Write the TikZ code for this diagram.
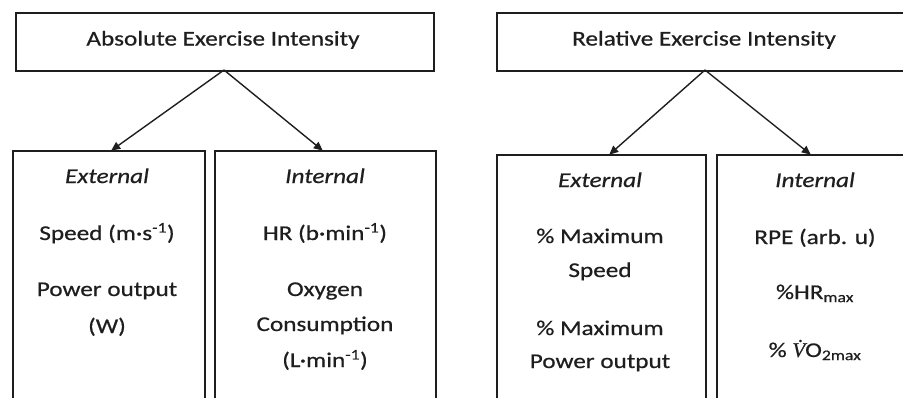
\documentclass[tikz,border=0pt]{standalone}
\usepackage{fontspec}
\setmainfont{Carlito}[FakeStretch=1.2,FakeBold=0.6]
\newfontfamily\vfont{Liberation Serif}[FakeBold=0.6]
\usetikzlibrary{arrows.meta}
\definecolor{ink}{HTML}{1E1E1E}
\tikzset{
  box/.style={draw=ink, line width=1.5pt, rectangle, inner sep=0pt, anchor=north west},
  lbl/.style={text=ink, anchor=base, inner sep=0pt, font=\fontsize{21}{24}\selectfont},
  arr/.style={draw=ink, line width=1.4pt, -{Triangle[length=9pt,width=8pt]}, shorten >=-1pt}
}
\begin{document}
\begin{tikzpicture}[x=1pt,y=-1pt]
\useasboundingbox (0,0) rectangle (903,397);
\clip (0,0) rectangle (903,397);
% top boxes
\node[box, minimum width=418pt, minimum height=58pt] (top1) at (15,12) {};
\node[box, minimum width=418pt, minimum height=58pt] (top2) at (496,12) {};
% lower boxes
\node[box, minimum width=192pt, minimum height=280pt] (b1) at (12,150) {};
\node[box, minimum width=221pt, minimum height=280pt] (b2) at (214,150) {};
\node[box, minimum width=209pt, minimum height=280pt] (b3) at (496,154) {};
\node[box, minimum width=221pt, minimum height=280pt] (b4) at (716,154) {};
% arrows
\coordinate (t1) at (224,70);
\coordinate (t2) at (705,70);
\coordinate (e1) at (112,150);
\coordinate (e2) at (322,150);
\coordinate (e3) at (610,154);
\coordinate (e4) at (810,154);
\draw[arr] (t1) -- (e1);
\draw[arr] (t1) -- (e2);
\draw[arr] (t2) -- (e3);
\draw[arr] (t2) -- (e4);
% titles
\node[lbl] (l0) at (223,45.5) {Absolute Exercise Intensity};
\node[lbl] (r0) at (704,45.5) {Relative Exercise Intensity};
% box 1
\node[lbl] (a1) at (107,183) {\itshape External};
\node[lbl] (a2) at (107,240) {Speed (m·s\textsuperscript{-1})};
\node[lbl] (a3) at (107,296) {Power output};
\node[lbl] (a4) at (107,333) {(W)};
% box 2
\node[lbl] (c1) at (325,183) {\itshape Internal};
\node[lbl] (c2) at (325,240) {HR (b·min\textsuperscript{-1})};
\node[lbl] (c3) at (325,296) {Oxygen};
\node[lbl] (c4) at (325,331) {Consumption};
\node[lbl] (c5) at (325,367) {(L·min\textsuperscript{-1})};
% box 3
\node[lbl] (d1) at (600,187) {\itshape External};
\node[lbl] (d2) at (600,243) {\% Maximum};
\node[lbl] (d3) at (600,277) {Speed};
\node[lbl] (d4) at (600,335) {\% Maximum};
\node[lbl] (d5) at (600,368) {Power output};
% box 4
\node[lbl] (f1) at (815,187) {\itshape Internal};
\node[lbl] (f2) at (815,244) {RPE (arb. u)};
\node[lbl] (f3) at (815,299) {\%HR\textsubscript{max}};
\node[lbl] (f4) at (815,357) {\% {\vfont\itshape V̇}O\textsubscript{2max}};
\end{tikzpicture}
\end{document}
